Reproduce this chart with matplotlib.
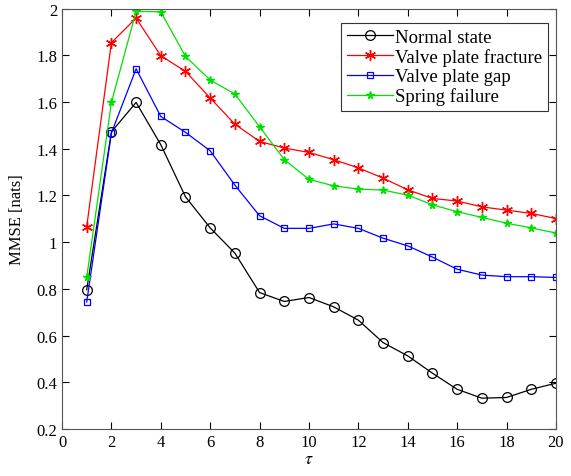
import numpy as np
import matplotlib
matplotlib.use('Agg')
import matplotlib.pyplot as plt

plt.rcParams['font.family'] = ['Liberation Serif', 'DejaVu Serif']
plt.rcParams['mathtext.fontset'] = 'stix'

# ---- データ ----
tau = np.arange(1, 21)
normal = [0.796, 1.472, 1.598, 1.417, 1.194, 1.061, 0.953, 0.784, 0.746, 0.763,
          0.723, 0.666, 0.570, 0.513, 0.439, 0.370, 0.332, 0.335, 0.370, 0.396]
fracture = [1.066, 1.854, 1.959, 1.798, 1.731, 1.617, 1.505, 1.431, 1.403, 1.384,
            1.353, 1.318, 1.274, 1.224, 1.187, 1.176, 1.151, 1.137, 1.123, 1.101]
gap = [0.744, 1.467, 1.742, 1.538, 1.470, 1.391, 1.244, 1.113, 1.059, 1.059,
       1.078, 1.059, 1.017, 0.984, 0.936, 0.884, 0.859, 0.852, 0.852, 0.849]
spring = [0.849, 1.598, 1.988, 1.986, 1.795, 1.694, 1.634, 1.494, 1.353, 1.269,
          1.241, 1.227, 1.223, 1.201, 1.160, 1.130, 1.106, 1.081, 1.061, 1.039]
labels = ['Normal state', 'Valve plate fracture', 'Valve plate gap', 'Spring failure']

fig = plt.figure(figsize=(5.71, 4.77), dpi=100)
ax = fig.add_axes([0.1086, 0.0985, 0.865, 0.8815])

ax.plot(tau, normal, color='k', lw=0.9, marker='o', ms=7, mfc='none', mew=0.9, label=labels[0])
ax.plot(tau, fracture, color='#ff0000', lw=0.9, marker=(6, 2, 0), ms=8, mew=1.0, label=labels[1])
ax.plot(tau, gap, color='#0000ff', lw=0.9, marker='s', ms=5, mfc='none', mew=0.9, label=labels[2])
ax.plot(tau, spring, color='#00e000', lw=0.9, marker='*', ms=5.5, label=labels[3])

# ---- 軸設定 ----
ax.set_xlim(0, 20)
ax.set_ylim(0.2, 2.0)
ax.set_xticks(np.arange(0, 21, 2))
ax.set_yticks(np.arange(0.2, 2.01, 0.2))
ax.set_yticklabels(['0.2', '0.4', '0.6', '0.8', '1', '1.2', '1.4', '1.6', '1.8', '2'])
ax.tick_params(direction='in', top=True, right=True, labelsize=12, length=5, width=0.8)
for s in ax.spines.values():
    s.set_color('#555555')
    s.set_linewidth(0.8)
ax.set_xlabel(r'$\tau$', fontsize=13, labelpad=0)
ax.set_ylabel('MMSE [nats]', fontsize=12, labelpad=8)

leg = ax.legend(loc='upper right', bbox_to_anchor=(0.984, 0.966), fontsize=13.5,
                frameon=True, fancybox=False, edgecolor='k', borderpad=0.3,
                labelspacing=0.12, handlelength=2.5, handletextpad=0.1, borderaxespad=0)
leg.get_frame().set_linewidth(0.8)

plt.savefig('out.png', dpi=100)
